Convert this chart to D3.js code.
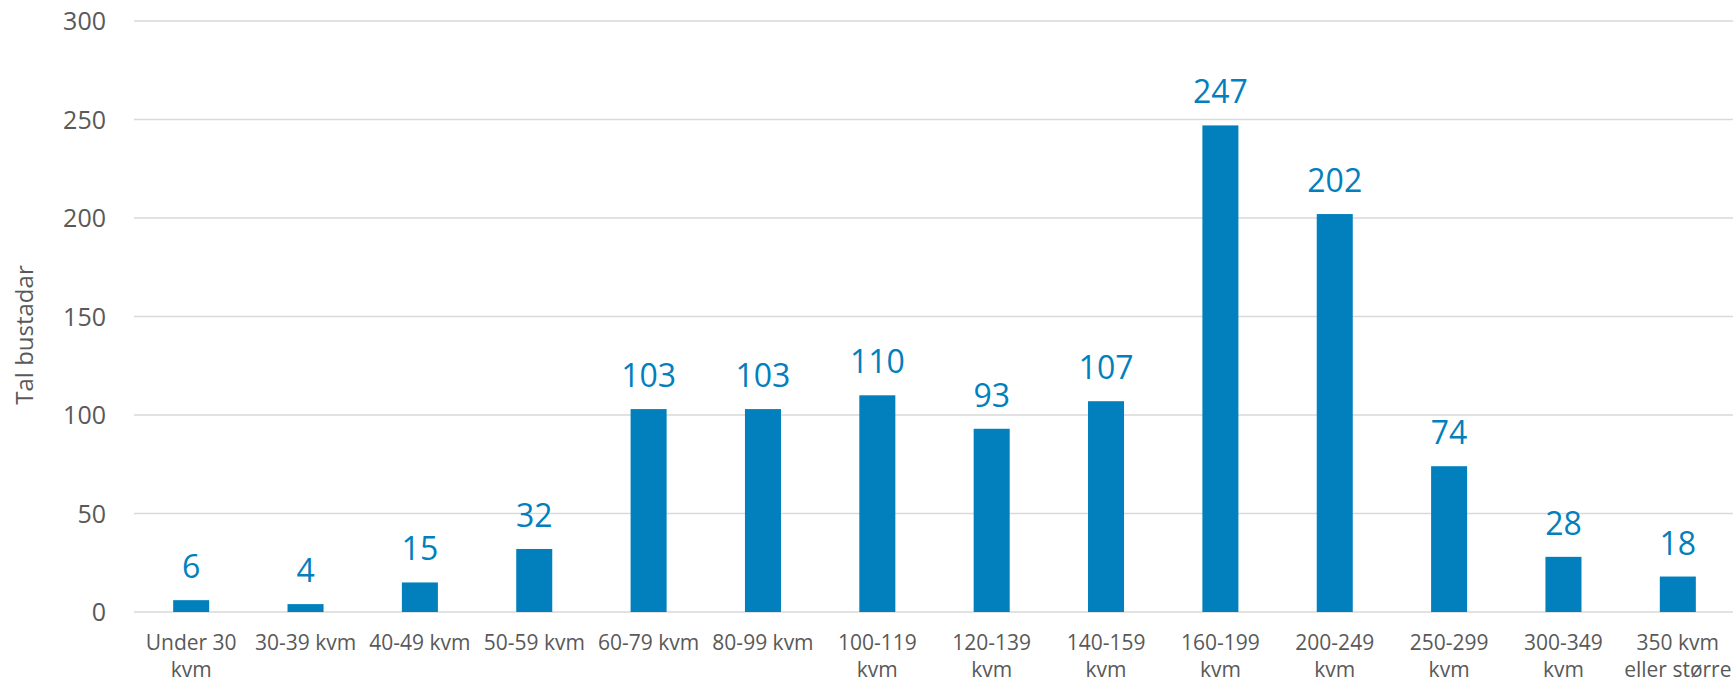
<!DOCTYPE html>
<html>
<head>
<meta charset="utf-8">
<script src="https://cdn.jsdelivr.net/npm/d3@7"></script>
<style>
  html, body { margin: 0; padding: 0; background: #fff; }
  svg { display: block; font-family: "Open Sans", "Lato", sans-serif; }
</style>
</head>
<body>
<svg id="chart" width="1733" height="683"></svg>
<script>
const categories = ["Under 30 kvm", "30-39 kvm", "40-49 kvm", "50-59 kvm", "60-79 kvm", "80-99 kvm",
  "100-119 kvm", "120-139 kvm", "140-159 kvm", "160-199 kvm", "200-249 kvm", "250-299 kvm",
  "300-349 kvm", "350 kvm eller større"];
const values = [6, 4, 15, 32, 103, 103, 110, 93, 107, 247, 202, 74, 28, 18];
const yTicks = [0, 50, 100, 150, 200, 250, 300];
const yTitle = "Tal bustadar";

(function () {
const svg = d3.select("#chart");
const mLeft = 134, mRight = 1735, mTop = 21, mBottom = 612;
const barColor = "#0180bd";
const textColor = "#595959";

const x = d3.scaleBand().domain(categories).range([mLeft, mRight]).paddingInner(0.685).paddingOuter(0.3425);
const y = d3.scaleLinear().domain([0, 300]).range([mBottom, mTop]);

// gridlines
svg.append("g").selectAll("line").data(yTicks).join("line")
  .attr("x1", mLeft).attr("x2", 1733)
  .attr("y1", d => y(d)).attr("y2", d => y(d))
  .attr("stroke", "#d9d9d9").attr("stroke-width", 1.5);

// y axis tick labels
const yAxis = d3.axisLeft(y).tickValues(yTicks).tickSize(0).tickPadding(0);
const ya = svg.append("g").attr("transform", `translate(106,0)`).call(yAxis);
ya.select(".domain").remove();
ya.selectAll("text").attr("font-size", 25).attr("fill", textColor)
  .attr("font-family", "'Open Sans', sans-serif").attr("dy", "0.35em");

// y title
svg.append("text")
  .attr("transform", `translate(33,335) rotate(-90)`)
  .attr("text-anchor", "middle")
  .attr("font-size", 24).attr("fill", textColor)
  .text(yTitle);

// bars
svg.append("g").selectAll("rect").data(values).join("rect")
  .attr("x", (d, i) => x(categories[i]))
  .attr("width", x.bandwidth())
  .attr("y", d => y(d))
  .attr("height", d => y(0) - y(d))
  .attr("fill", barColor);

// value labels
svg.append("g").selectAll("text").data(values).join("text")
  .attr("x", (d, i) => x(categories[i]) + x.bandwidth() / 2)
  .attr("y", d => y(d) - 22)
  .attr("text-anchor", "middle")
  .attr("font-size", 32).attr("fill", barColor)
  .text(d => d);

// category labels with wrapping
const xAxis = d3.axisBottom(x).tickSize(0).tickPadding(0);
const xa = svg.append("g").attr("transform", `translate(0,${mBottom})`).call(xAxis);
xa.select(".domain").remove();
const maxW = x.step() - 6;
xa.selectAll("text").each(function(d) {
  const t = d3.select(this);
  t.text(null).attr("font-size", 21).attr("fill", textColor)
    .attr("font-family", "'Open Sans', sans-serif").attr("y", 0).attr("dy", null);
  const words = d.split(" ");
  let lines = [], cur = [];
  const probe = t.append("tspan");
  words.forEach(w => {
    const test = cur.concat([w]).join(" ");
    probe.text(test);
    if (probe.node().getComputedTextLength() > maxW && cur.length) {
      lines.push(cur.join(" "));
      cur = [w];
    } else cur.push(w);
  });
  lines.push(cur.join(" "));
  probe.remove();
  lines.forEach((l, i) => {
    t.append("tspan").attr("x", 0).attr("y", 38 + i * 27).text(l);
  });
});
})();
</script>
</body>
</html>
